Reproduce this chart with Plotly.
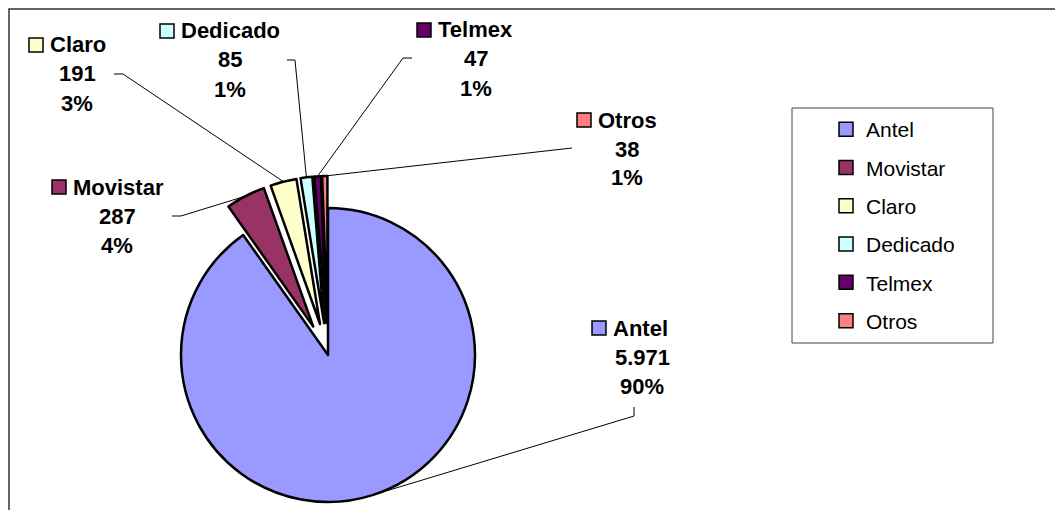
import math
import plotly.graph_objects as go

# ---------------- data ----------------
labels = ["Antel", "Movistar", "Claro", "Dedicado", "Telmex", "Otros"]
values = [5971, 287, 191, 85, 47, 38]
value_text = ["5.971", "287", "191", "85", "47", "38"]
pct_text = ["90%", "4%", "3%", "1%", "1%", "1%"]
colors = ["#9999FF", "#993366", "#FFFFCC", "#CCFFFF", "#660066", "#FF8080"]
explode = [0, 1, 1, 1, 1, 1]

# ---------------- layout constants (screen pixels) ----------------
W, H = 1063, 510
OFF = 8  # page body margin
CX, CY, R = 328, 355, 147
PULL = 32

# label block: key left x, name centre y, value/pct centre x
label_pos = {
    "Antel": (592, 328, 642),
    "Movistar": (52, 187, 117),
    "Claro": (29, 45, 77),
    "Dedicado": (160, 31, 230),
    "Telmex": (417, 30, 476),
    "Otros": (577, 120, 627),
}
# leader start points on the label side (elbow list)
leader_start = {
    "Antel": [(634, 407), (634, 416)],
    "Movistar": [(172, 216), (181, 216)],
    "Claro": [(114, 74), (123, 74)],
    "Dedicado": [(287, 60), (295, 60)],
    "Telmex": [(412, 58), (403, 58)],
    "Otros": [(572, 148)],
}


def px(x):
    return (x - OFF) / W


def py(y):
    return 1 - (y - OFF) / H


total = sum(values)
fig = go.Figure()

cum = 0.0
mids = []
for v in values:
    mids.append((cum + v / 2) / total * 2 * math.pi)
    cum += v

centers = []
for i, lab in enumerate(labels):
    th = mids[i]
    d = PULL * explode[i]
    cx = CX + d * math.sin(th)
    cy = CY - d * math.cos(th)
    centers.append((cx, cy))
    cols = [colors[j] if j == i else "rgba(0,0,0,0)" for j in range(len(labels))]
    lw = [2.5 if j == i else 0 for j in range(len(labels))]
    fig.add_trace(go.Pie(
        labels=labels, values=values, sort=False, direction="clockwise",
        rotation=0, textinfo="none", hoverinfo="skip", showlegend=False,
        marker=dict(colors=cols, line=dict(color="black", width=lw)),
        domain=dict(x=[px(cx - R), px(cx + R)], y=[py(cy + R), py(cy - R)]),
    ))

# legend entries
for lab, c in zip(labels, colors):
    fig.add_trace(go.Scatter(
        x=[None], y=[None], mode="markers", name=lab, legendgroup=lab,
        marker=dict(symbol="square", size=14, color=c, line=dict(color="black", width=1.5)),
    ))

shapes = []
annotations = []
# outer chart border
shapes.append(dict(type="rect", xref="paper", yref="paper",
                   x0=px(9), x1=px(1062), y0=py(530), y1=py(9),
                   line=dict(color="#333333", width=1.5)))
# legend box
shapes.append(dict(type="rect", xref="paper", yref="paper",
                   x0=px(792), x1=px(993), y0=py(343), y1=py(108),
                   line=dict(color="#444444", width=1)))

lab_font_b = dict(family="Liberation Sans, Arial", size=22, color="black")
for i, lab in enumerate(labels):
    kx, ny, vx = label_pos[lab]
    # key square
    shapes.append(dict(type="rect", xref="paper", yref="paper",
                       x0=px(kx), x1=px(kx + 14), y0=py(ny + 7), y1=py(ny - 7),
                       fillcolor=colors[i], line=dict(color="black", width=1.5)))
    annotations.append(dict(xref="paper", yref="paper", x=px(kx + 19), y=py(ny),
                            xanchor="left", yanchor="middle", showarrow=False,
                            text="<b>" + lab + "</b>", font=lab_font_b))
    annotations.append(dict(xref="paper", yref="paper", x=px(vx), y=py(ny + 29),
                            xanchor="center", yanchor="middle", showarrow=False,
                            text="<b>" + value_text[i] + "</b>", font=lab_font_b))
    annotations.append(dict(xref="paper", yref="paper", x=px(vx), y=py(ny + 58),
                            xanchor="center", yanchor="middle", showarrow=False,
                            text="<b>" + pct_text[i] + "</b>", font=lab_font_b))
    # leader line to slice rim at bisector
    cx, cy = centers[i]
    ex = cx + R * math.sin(mids[i])
    ey = cy - R * math.cos(mids[i])
    pts = leader_start[lab] + [(ex, ey)]
    path = "M " + " L ".join(f"{px(x):.5f},{py(y):.5f}" for x, y in pts)
    shapes.append(dict(type="path", xref="paper", yref="paper", path=path,
                       line=dict(color="black", width=1)))

fig.update_layout(
    width=W, height=H, margin=dict(l=0, r=0, t=0, b=0),
    paper_bgcolor="white", plot_bgcolor="white",
    xaxis=dict(visible=False), yaxis=dict(visible=False),
    showlegend=True,
    legend=dict(x=px(826), y=py(109), xanchor="left", yanchor="top",
                bgcolor="rgba(0,0,0,0)", borderwidth=0, tracegroupgap=8,
                font=dict(family="Liberation Sans, Arial", size=21, color="black")),
    shapes=shapes, annotations=annotations,
)

fig.write_html("out.html")
